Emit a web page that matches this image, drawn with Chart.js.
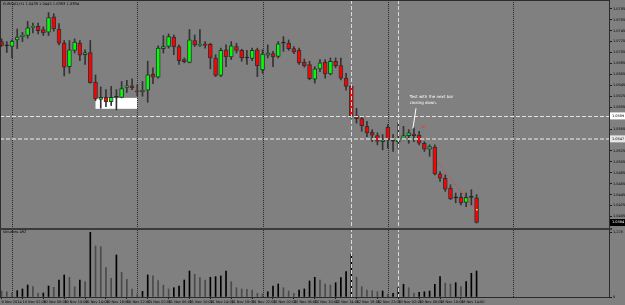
<!DOCTYPE html>
<html>
<head>
<meta charset="utf-8">
<script src="https://cdn.jsdelivr.net/npm/chart.js@4.4.0/dist/chart.umd.min.js"></script>
<style>
  html, body { margin: 0; padding: 0; background: #808080; }
  #wrap { width: 625px; height: 305px; }
</style>
</head>
<body>
<div id="wrap"><canvas id="chart1" width="625" height="305"></canvas></div>
<script>
// H1 bars, first bar opens 9 Nov 22:00
var firstHour = 22;
var opens = [1.0725, 1.0717, 1.0716, 1.0728, 1.0734, 1.0736, 1.0751, 1.0753, 1.0747, 1.0742,
    1.0770, 1.0748, 1.0722, 1.0679, 1.0709, 1.0722, 1.0701, 1.0705, 1.0651, 1.0619,
    1.0623, 1.0615, 1.0623, 1.0623, 1.0641, 1.0644, 1.0635, 1.0633, 1.0636, 1.0665,
    1.0660, 1.0712, 1.0716, 1.0733, 1.0716, 1.0692, 1.0687, 1.0727, 1.0718, 1.0721,
    1.0720, 1.0695, 1.0663, 1.0710, 1.0697, 1.0716, 1.0709, 1.0695, 1.0694, 1.0710,
    1.0673, 1.0700, 1.0703, 1.0698, 1.0722, 1.0722, 1.0712, 1.0709, 1.0687, 1.0683,
    1.0656, 1.0675, 1.0687, 1.0666, 1.0689, 1.0681, 1.0658, 1.0643, 1.0589, 1.0584,
    1.0570, 1.0559, 1.0553, 1.0542, 1.0568, 1.0543, 1.0542, 1.0548, 1.0553, 1.0556,
    1.0554, 1.0539, 1.0528, 1.0532, 1.0483, 1.0475, 1.0457, 1.0439, 1.0440, 1.0431,
    1.0440, 1.0439];
var highs = [1.0730, 1.0725, 1.0728, 1.0748, 1.0742, 1.0762, 1.0759, 1.0759, 1.0752, 1.0778,
    1.0776, 1.0758, 1.0727, 1.0727, 1.0730, 1.0727, 1.0710, 1.0727, 1.0664, 1.0642,
    1.0637, 1.0643, 1.0637, 1.0652, 1.0654, 1.0657, 1.0646, 1.0652, 1.0689, 1.0677,
    1.0717, 1.0736, 1.0739, 1.0737, 1.0719, 1.0695, 1.0747, 1.0737, 1.0747, 1.0725,
    1.0722, 1.0701, 1.0713, 1.0719, 1.0725, 1.0722, 1.0711, 1.0709, 1.0713, 1.0713,
    1.0710, 1.0719, 1.0707, 1.0725, 1.0734, 1.0728, 1.0716, 1.0713, 1.0693, 1.0689,
    1.0679, 1.0692, 1.0692, 1.0695, 1.0695, 1.0695, 1.0667, 1.0645, 1.0603, 1.0588,
    1.0579, 1.0564, 1.0558, 1.0555, 1.0573, 1.0555, 1.0577, 1.0570, 1.0564, 1.0567,
    1.0561, 1.0542, 1.0536, 1.0536, 1.0487, 1.0481, 1.0463, 1.0448, 1.0448, 1.0448,
    1.0454, 1.0445];
var lows = [1.0716, 1.0705, 1.0695, 1.0712, 1.0725, 1.0731, 1.0741, 1.0739, 1.0736, 1.0736,
    1.0744, 1.0719, 1.0662, 1.0667, 1.0704, 1.0690, 1.0683, 1.0649, 1.0617, 1.0603,
    1.0606, 1.0608, 1.0600, 1.0622, 1.0632, 1.0637, 1.0626, 1.0625, 1.0614, 1.0648,
    1.0658, 1.0704, 1.0713, 1.0701, 1.0683, 1.0686, 1.0686, 1.0716, 1.0716, 1.0713,
    1.0675, 1.0661, 1.0661, 1.0679, 1.0692, 1.0704, 1.0689, 1.0683, 1.0690, 1.0661,
    1.0667, 1.0695, 1.0679, 1.0695, 1.0707, 1.0709, 1.0703, 1.0683, 1.0678, 1.0655,
    1.0649, 1.0670, 1.0658, 1.0664, 1.0677, 1.0655, 1.0636, 1.0585, 1.0576, 1.0561,
    1.0551, 1.0542, 1.0536, 1.0527, 1.0530, 1.0524, 1.0530, 1.0545, 1.0539, 1.0542,
    1.0536, 1.0524, 1.0515, 1.0481, 1.0469, 1.0451, 1.0436, 1.0430, 1.0426, 1.0423,
    1.0426, 1.0393];
var closes = [1.0718, 1.0717, 1.0726, 1.0733, 1.0737, 1.0750, 1.0752, 1.0745, 1.0741, 1.0769,
    1.0748, 1.0722, 1.0678, 1.0710, 1.0724, 1.0700, 1.0705, 1.0650, 1.0620, 1.0623,
    1.0615, 1.0623, 1.0623, 1.0639, 1.0644, 1.0640, 1.0633, 1.0636, 1.0664, 1.0660,
    1.0713, 1.0716, 1.0734, 1.0715, 1.0690, 1.0688, 1.0728, 1.0719, 1.0720, 1.0718,
    1.0695, 1.0663, 1.0709, 1.0697, 1.0717, 1.0709, 1.0695, 1.0695, 1.0709, 1.0681,
    1.0702, 1.0704, 1.0697, 1.0721, 1.0722, 1.0712, 1.0706, 1.0686, 1.0681, 1.0657,
    1.0675, 1.0686, 1.0666, 1.0689, 1.0681, 1.0658, 1.0643, 1.0589, 1.0584, 1.0571,
    1.0558, 1.0554, 1.0543, 1.0545, 1.0545, 1.0543, 1.0548, 1.0553, 1.0558, 1.0553,
    1.0539, 1.0528, 1.0533, 1.0483, 1.0475, 1.0455, 1.0437, 1.0439, 1.0430, 1.0440,
    1.0440, 1.0394];
var volumes = [114, 100, 76, 120, 152, 227, 195, 70, 76, 208,
    184, 322, 417, 373, 195, 322, 290, 1225, 966, 953,
    555, 354, 795, 468, 335, 152, 57, 108, 417, 403,
    309, 227, 152, 176, 208, 322, 492, 430, 366, 322,
    373, 385, 398, 492, 290, 176, 152, 146, 133, 70,
    57, 100, 208, 246, 176, 114, 70, 133, 152, 303,
    373, 322, 246, 227, 271, 366, 479, 809, 373, 195,
    133, 119, 100, 114, 57, 70, 176, 241, 176, 70,
    89, 100, 114, 241, 385, 260, 246, 271, 195, 290,
    449, 492];
// one label every 4 bars
var timeLabels = ['9 Nov 2014', '10 Nov 02:00', '10 Nov 06:00', '10 Nov 10:00', '10 Nov 14:00', '10 Nov 18:00',
    '10 Nov 22:00', '11 Nov 02:00', '11 Nov 06:00', '11 Nov 10:00', '11 Nov 14:00', '11 Nov 18:00',
    '11 Nov 22:00', '12 Nov 02:00', '12 Nov 06:00', '12 Nov 10:00', '12 Nov 14:00', '12 Nov 18:00',
    '12 Nov 22:00', '13 Nov 02:00', '13 Nov 06:00', '13 Nov 10:00', '13 Nov 14:00'];
var priceTicks = [1.0785, 1.0765, 1.0745, 1.0725, 1.0705, 1.0685, 1.0665, 1.0645, 1.0625, 1.0605,
    1.0585, 1.0565, 1.0545, 1.0525, 1.0505, 1.0485, 1.0465, 1.0445, 1.0425, 1.0405];
var volTicks = [0, 1225];
var hLevels = [1.0589, 1.0547];
var vLineBars = [67, 76];
var boxObj = { from: 18, to: 26, top: 1.0622, bottom: 1.0602 };
var noteLines = ['Test with the next bar', 'closing down.'];

var symbolTitle = 'EURAUD,H1 ' + [opens[91], highs[91], lows[91], closes[91]].map(v => v.toFixed(4)).join(' ');
var volTitle = 'Volumes ' + volumes[volumes.length - 1];

var bull = '#00ff00';
var bear = '#ff0000';

function candleColor(i) {
    if (closes[i] > opens[i]) return bull;
    if (closes[i] < opens[i]) return bear;
    return '#1e1e1e';
}

var wickData = lows.map((l, i) => ({ x: i, y: [l, highs[i]] }));
var bodyData = opens.map((o, i) => ({ x: i, y: [o, closes[i]] }));
var volData = volumes.map((v, i) => ({ x: i, y: v }));
var bodyColors = opens.map((o, i) => candleColor(i));
var volColors = volumes.map((v, i) => (i > 0 && v > volumes[i - 1]) ? '#000000' : '#4a4a4a');

function dashedLine(ctx, x1, y1, x2, y2, color, width, dash) {
    ctx.save();
    ctx.strokeStyle = color;
    ctx.lineWidth = width;
    ctx.setLineDash(dash);
    ctx.beginPath();
    ctx.moveTo(x1, y1);
    ctx.lineTo(x2, y2);
    ctx.stroke();
    ctx.restore();
}

var mtObjects = {
    id: 'mtObjects',
    beforeDraw(chart) {
        var ctx = chart.ctx;
        ctx.save();
        ctx.fillStyle = '#808080';
        ctx.fillRect(0, 0, chart.width, chart.height);
        ctx.restore();
    },
    beforeDatasetsDraw(chart) {
        var ctx = chart.ctx;
        var xs = chart.scales.x, ys = chart.scales.y;
        var area = chart.chartArea;
        // rectangle object
        ctx.save();
        ctx.fillStyle = '#ffffff';
        var rx1 = xs.getPixelForValue(boxObj.from), rx2 = xs.getPixelForValue(boxObj.to);
        var ry1 = ys.getPixelForValue(boxObj.top), ry2 = ys.getPixelForValue(boxObj.bottom);
        ctx.fillRect(rx1, ry1, rx2 - rx1, ry2 - ry1);
        ctx.restore();
        // day separators
        for (var i = 0; i <= 116; i++) {
            if ((firstHour + i) % 24 !== 0) continue;
            var x = Math.round(xs.getPixelForValue(i)) + 0.5;
            dashedLine(ctx, x, area.top, x, area.bottom, '#2a2a2a', 1, [1, 1]);
        }
    },
    afterDatasetsDraw(chart) {
        var ctx = chart.ctx;
        var xs = chart.scales.x, ys = chart.scales.y;
        var area = chart.chartArea;
        // horizontal levels
        var hy1 = Math.round(ys.getPixelForValue(hLevels[0])) + 0.5;
        dashedLine(ctx, area.left, hy1, area.right, hy1, '#e2e2e2', 1, [4, 2]);
        var hy2 = Math.round(ys.getPixelForValue(hLevels[1]));
        dashedLine(ctx, area.left, hy2, area.right, hy2, '#b8b8b8', 2, [4, 2]);
        // vertical lines
        vLineBars.forEach(b => {
            var x = Math.round(xs.getPixelForValue(b)) + 0.5;
            dashedLine(ctx, x, area.top, x, area.bottom, '#dadada', 1, [4, 2]);
        });
        // pointer line to the test bar
        dashedLine(ctx, xs.getPixelForValue(79.4), ys.getPixelForValue(1.0603),
            xs.getPixelForValue(78.8), ys.getPixelForValue(1.0566), '#ffffff', 1, []);
        // red dotted trend line
        dashedLine(ctx, xs.getPixelForValue(83.6), ys.getPixelForValue(1.0503),
            xs.getPixelForValue(90.5), ys.getPixelForValue(1.0421), '#ff2a2a', 1, [1, 2]);
        dashedLine(ctx, xs.getPixelForValue(80.5), ys.getPixelForValue(1.0569),
            xs.getPixelForValue(81.1), ys.getPixelForValue(1.0569), '#ff2a2a', 1, []);
        ctx.save();
        ctx.fillStyle = '#ffff40';
        ctx.fillRect(xs.getPixelForValue(91) - 0.5, ys.getPixelForValue(1.0417) - 1, 1.5, 1.5);
        // note text
        ctx.fillStyle = '#ffffff';
        ctx.font = '4px "DejaVu Sans"';
        ctx.textBaseline = 'middle';
        ctx.fillText(noteLines[0], xs.getPixelForValue(78.2), ys.getPixelForValue(1.0623));
        ctx.fillText(noteLines[1], xs.getPixelForValue(78.2), ys.getPixelForValue(1.0612));
        ctx.restore();
    },
    afterDraw(chart) {
        var ctx = chart.ctx;
        var ys = chart.scales.y;
        var area = chart.chartArea;
        ctx.save();
        // frame
        ctx.fillStyle = '#2c2c2c';
        ctx.fillRect(0, 0, area.right, 1);
        ctx.fillRect(0, 0, 1, area.bottom);
        ctx.fillStyle = '#3a3a3a';
        ctx.fillRect(0, ys.bottom, area.right + 3, 2);
        // titles
        ctx.fillStyle = '#000000';
        ctx.font = '3.6px "DejaVu Sans"';
        ctx.textBaseline = 'middle';
        ctx.fillText(symbolTitle, 3, 4);
        ctx.fillText(volTitle, 3, ys.bottom + 4);
        // axis price boxes
        ctx.font = '3.5px "DejaVu Sans"';
        var fills = ['#ffffff', '#e6e6e6'];
        hLevels.forEach((v, k) => {
            var y = ys.getPixelForValue(v);
            ctx.fillStyle = fills[k];
            ctx.fillRect(area.right + 1, y - 3.5, 15, 7);
            ctx.fillStyle = '#000000';
            ctx.fillText(v.toFixed(4), area.right + 3, y);
        });
        var last = closes[closes.length - 1];
        var ly = ys.getPixelForValue(last);
        ctx.fillStyle = '#000000';
        ctx.fillRect(area.right + 1, ly - 3.5, 15, 7);
        ctx.fillStyle = '#ffffff';
        ctx.fillText(last.toFixed(4), area.right + 3, ly);
        ctx.restore();
    }
};

function fixWidth(s) {
    s.width = 16;
    s.paddingTop = 0; s.paddingBottom = 0;
}

var tinyFont = { family: 'DejaVu Sans', size: 3.5 };

new Chart(document.getElementById('chart1'), {
    type: 'bar',
    data: {
        datasets: [{
            data: bodyData,
            xAxisID: 'x',
            yAxisID: 'y',
            backgroundColor: bodyColors,
            borderColor: 'rgba(35,45,45,0.9)',
            borderWidth: 1,
            borderSkipped: false,
            barThickness: 4,
            minBarLength: 1,
            grouped: false,
            order: 1
        }, {
            data: wickData,
            xAxisID: 'x',
            yAxisID: 'y',
            backgroundColor: '#333333',
            barThickness: 1,
            grouped: false,
            order: 2
        }, {
            data: volData,
            xAxisID: 'x',
            yAxisID: 'yVol',
            backgroundColor: volColors,
            barThickness: 1,
            grouped: false,
            order: 3
        }]
    },
    options: {
        responsive: false,
        animation: false,
        devicePixelRatio: 1,
        layout: { padding: 0 },
        plugins: { legend: { display: false }, tooltip: { enabled: false } },
        scales: {
            x: {
                type: 'linear',
                position: 'bottom',
                offset: false,
                min: -0.3,
                max: 116.37,
                afterBuildTicks: s => { s.ticks = timeLabels.map((t, k) => ({ value: k * 4 })); },
                afterFit: s => { s.height = 8; s.paddingLeft = 0; s.paddingRight = 0; },
                ticks: {
                    callback: (v, idx) => timeLabels[idx],
                    autoSkip: false,
                    maxRotation: 0,
                    align: 'start',
                    padding: 1,
                    color: '#000000',
                    font: tinyFont
                },
                grid: { drawOnChartArea: false, tickLength: 2, color: '#1a1a1a', offset: false },
                border: { color: '#2a2a2a' }
            },
            y: {
                type: 'linear',
                position: 'right',
                stack: 'panes',
                stackWeight: 228,
                min: 1.0384,
                max: 1.0801,
                afterBuildTicks: s => { s.ticks = priceTicks.map(v => ({ value: v })); },
                afterFit: fixWidth,
                ticks: {
                    callback: v => v.toFixed(4),
                    autoSkip: false,
                    crossAlign: 'near',
                    padding: 1,
                    color: '#000000',
                    font: tinyFont
                },
                grid: { drawOnChartArea: false, tickLength: 3, color: '#1a1a1a' },
                border: { color: '#2a2a2a' }
            },
            yVol: {
                type: 'linear',
                position: 'right',
                stack: 'panes',
                stackWeight: 69,
                min: 0,
                max: 1306,
                afterBuildTicks: s => { s.ticks = volTicks.map(v => ({ value: v })); },
                afterFit: fixWidth,
                ticks: {
                    autoSkip: false,
                    crossAlign: 'near',
                    padding: 1,
                    color: '#000000',
                    font: tinyFont
                },
                grid: { drawOnChartArea: false, tickLength: 3, color: '#1a1a1a' },
                border: { color: '#2a2a2a' }
            }
        }
    },
    plugins: [mtObjects]
});
</script>
</body>
</html>
